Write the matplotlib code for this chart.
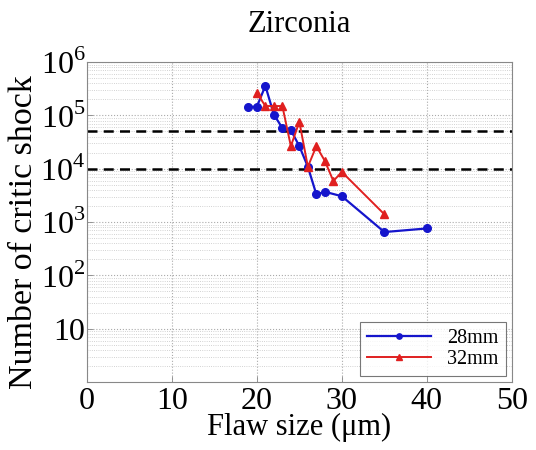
import matplotlib
matplotlib.use('Agg')
import matplotlib.pyplot as plt
from matplotlib.ticker import LogLocator, NullFormatter

# flaw size (um) and number of critical shocks
size_28 = [19, 20, 21, 22, 23, 24, 25, 26, 27, 28, 30, 35, 40]
shock_28 = [1.45e5, 1.45e5, 3.6e5, 1.04e5, 5.8e4, 5.3e4, 2.65e4, 1.09e4,
            3.3e3, 3.7e3, 3.05e3, 6.5e2, 7.6e2]

size_32 = [20, 21, 22, 23, 24, 25, 26, 27, 28, 29, 30, 35]
shock_32 = [2.65e5, 1.5e5, 1.5e5, 1.5e5, 2.65e4, 7.6e4, 1.09e4, 2.65e4,
            1.4e4, 5.9e3, 8.7e3, 1.4e3]

limits = [5e4, 1e4]

x_ticks = [0, 10, 20, 30, 40, 50]
y_ticks = [10, 1e2, 1e3, 1e4, 1e5, 1e6]
y_labels = ['10', '$10^2$', '$10^3$', '$10^4$', '$10^5$', '$10^6$']

plt.rcParams['font.family'] = ['Liberation Serif', 'DejaVu Serif']
plt.rcParams['mathtext.fontset'] = 'custom'
plt.rcParams['mathtext.rm'] = 'Liberation Serif'

fig = plt.figure(figsize=(5.36, 4.5), dpi=100)
ax = fig.add_axes([0.162, 0.151, 0.793, 0.711])

ax.plot(size_28, shock_28, '-o', color='#1515cc', lw=1.6, ms=5.5, label='28mm', zorder=3)
ax.plot(size_32, shock_32, '-^', color='#e02020', lw=1.4, ms=5.5, label='32mm', zorder=3)
for lim in limits:
	ax.axhline(lim, color='black', ls='--', lw=1.8, dashes=(4, 2.5), zorder=2)

ax.set_yscale('log')
ax.set_xlim(0, 50)
ax.set_ylim(1, 1e6)
ax.set_xticks(x_ticks)
ax.set_yticks(y_ticks)
ax.set_yticklabels(y_labels)
ax.yaxis.set_minor_locator(LogLocator(base=10, subs=range(2, 10), numticks=100))
ax.yaxis.set_minor_formatter(NullFormatter())
ax.tick_params(axis='both', which='major', labelsize=23, direction='in', length=4, width=0.6, color='#888888')
ax.tick_params(axis='y', which='major', pad=1)
ax.tick_params(axis='y', which='minor', length=0)
ax.grid(True, which='major', axis='both', ls=':', lw=0.8, color='#aaaaaa')
ax.grid(True, which='minor', axis='y', ls=':', lw=0.6, color='#c4c4c4')
for sp in ax.spines.values():
	sp.set_color('#888888')
	sp.set_linewidth(0.8)

ax.set_xlabel('Flaw size (μm)', fontsize=22, labelpad=-2)
ax.set_ylabel('Number of critic shock', fontsize=24.5)
ax.yaxis.set_label_coords(-0.112, 0.47)
ax.set_title('Zirconia', fontsize=22, pad=22)

leg = ax.legend(loc='lower right', fontsize=14.5, fancybox=False, edgecolor='#555555',
	borderaxespad=0.3, handlelength=3.2, markerscale=0.7, labelspacing=0.1,
	borderpad=0.35)
leg.get_frame().set_linewidth(0.8)

fig.savefig('out.png', dpi=100)
